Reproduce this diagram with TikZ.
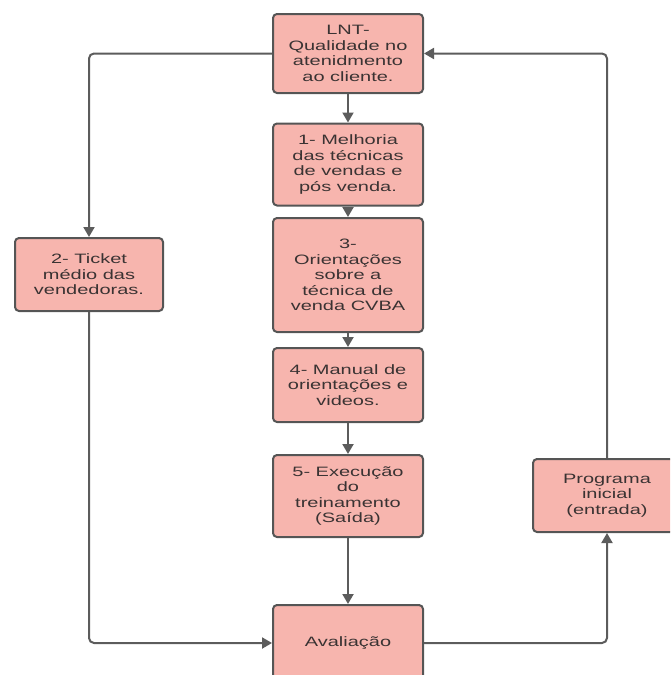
\documentclass[tikz,border=0pt]{standalone}
\usepackage{fontspec}
\setmainfont{Liberation Sans}
\newfontfamily\boxfont[FakeStretch=1.47]{Liberation Sans}
\usetikzlibrary{arrows.meta}
\definecolor{boxfill}{HTML}{F7B5AE}
\definecolor{boxline}{HTML}{555555}
\definecolor{linkgray}{HTML}{5C5C5C}
\definecolor{textgray}{HTML}{3A3333}
\tikzset{
  flowbox/.style={draw=boxline, line width=2pt, fill=boxfill, rounded corners=4pt,
    align=center, text=textgray, inner sep=0pt,
    font=\boxfont\fontsize{13.6}{15.5}\selectfont},
  link/.style={draw=linkgray, line width=2pt, rounded corners=5pt,
    -{Triangle[width=11pt,length=10pt]}}
}
\newcommand{\flowbox}[6]{\node[flowbox,minimum width=#4pt,minimum height=#5pt] (#1) at ( #2 , #3 ) {#6};}

\begin{document}
\begin{tikzpicture}[x=1pt,y=-1pt]
\clip (0,0) rectangle (670,675);
% centre column
\flowbox{lnt}{348}{53.5}{150}{79}{LNT-\\Qualidade no\\atenidmento\\ao cliente.}
\flowbox{melhoria}{348}{164.5}{150}{82}{1- Melhoria\\das técnicas\\de vendas e\\pós venda.}
\flowbox{orient}{348}{275}{150}{114}{3-\\Orientações\\sobre a\\técnica de\\venda CVBA}
\flowbox{manual}{348}{385}{150}{74}{4- Manual de\\orientações e\\videos.}
\flowbox{exec}{348}{496}{150}{82}{5- Execução\\do\\treinamento\\(Saída)}
\flowbox{aval}{348}{643}{150}{76}{Avaliação}
% side boxes
\flowbox{ticket}{89}{274.5}{148}{73}{2- Ticket\\médio das\\vendedoras.}
\flowbox{prog}{607}{495.5}{148}{73}{Programa\\inicial\\(entrada)}
% centre links
\draw[link] (lnt) -- (melhoria);
\draw[link] (melhoria) -- (orient);
\draw[link] (orient) -- (manual);
\draw[link] (manual) -- (exec);
\draw[link] (exec) -- (aval);
% loop round the sides
\draw[link] (lnt.west) -| (ticket.north);
\draw[link] (ticket.south) |- (aval.west);
\draw[link] (aval.east) -| (prog.south);
\draw[link] (prog.north) |- (lnt.east);
\end{tikzpicture}
\end{document}
